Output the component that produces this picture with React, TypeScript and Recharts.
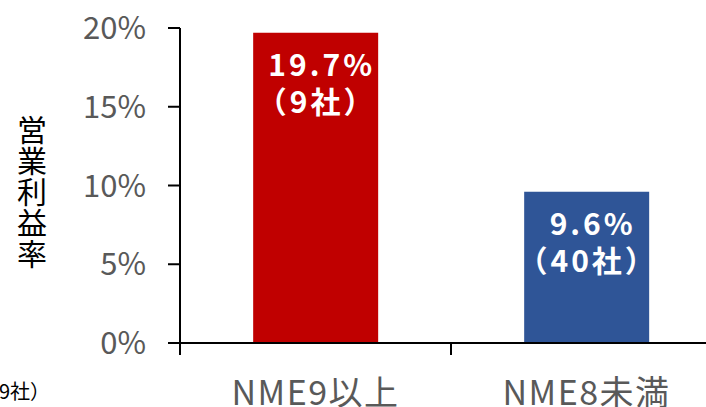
import React from 'react';
import { BarChart, Bar, XAxis, YAxis, Cell, LabelList } from 'recharts';

const categories = ['NME9以上', 'NME8未満'];
const operatingMargins = [19.7, 9.6];
const companyCounts = [9, 40];
const barColors = ['#C00000', '#2F5597'];
const yTicks = [0, 5, 10, 15, 20];
const yTitle = '営業利益率';

const FONT = '"Noto Sans CJK JP", "Noto Sans", sans-serif';

const data = categories.map((name, i) => ({
  name,
  value: operatingMargins[i],
  companies: companyCounts[i],
}));

// two-line white label inside the top of each bar
const BarLabel = (props: any) => {
  const { x, y, width, index, value } = props;
  const cx = x + width / 2;
  return (
    <text style={{ fill: '#fff', fontSize: 30, fontWeight: 700, fontFamily: FONT, letterSpacing: 3 }}
      textAnchor="middle" dominantBaseline="central">
      <tspan x={cx + 6} y={y + 30}>{`${value}%`}</tspan>
      <tspan x={cx + 1} y={y + 67}>{`（${companyCounts[index]}社）`}</tspan>
    </text>
  );
};

// category name plus tick marks on the band edges
const CategoryTick = (props: any) => {
  const { x, y, payload, index, visibleTicksCount } = props;
  const half = payload.offset || 0;
  const axisY = y - 38;
  return (
    <g>
      <line x1={x - half} x2={x - half} y1={axisY} y2={axisY + 12} stroke="#000" strokeWidth={2} />
      {index === visibleTicksCount - 1 && (
        <line x1={x + half} x2={x + half} y1={axisY} y2={axisY + 12} stroke="#000" strokeWidth={2} />
      )}
      <text x={x} y={y} dy="0.71em" textAnchor="middle" fill="#595959" fontSize={34}
        fontFamily={FONT} letterSpacing={1.5}>
        {payload.value}
      </text>
    </g>
  );
};

// y-axis title written top to bottom
const VerticalTitle = (props: any) => {
  const vb = props.viewBox || {};
  const mid = vb.y + vb.height / 2 + 7;
  return (
    <text x={32} y={mid} fontSize={30} fill="#000" fontFamily={FONT} letterSpacing={1}
      textAnchor="middle" dominantBaseline="central" style={{ writingMode: 'vertical-rl' }}>
      {yTitle}
    </text>
  );
};

export default function App() {
  return (
    <div style={{ position: 'fixed', left: 0, top: 0, width: 706, height: 407, overflow: 'hidden', background: '#fff' }}>
      <BarChart width={740} height={407} data={data} barCategoryGap="27%"
        margin={{ top: 28, right: 18, bottom: 0, left: 0 }}>
        <XAxis dataKey="name" height={64} tickSize={0} tickMargin={38}
          axisLine={{ stroke: '#000', strokeWidth: 2 }} tickLine={false}
          tick={<CategoryTick />} />
        <YAxis width={180} domain={[0, 20]} ticks={yTicks} tickFormatter={(v) => `${v}%`}
          tickSize={12} tickMargin={22}
          axisLine={{ stroke: '#000', strokeWidth: 2 }} tickLine={{ stroke: '#000', strokeWidth: 2 }}
          tick={{ fill: '#595959', fontSize: 31, fontFamily: FONT }}
          label={{ content: VerticalTitle }} />
        <Bar dataKey="value" isAnimationActive={false}>
          {data.map((d, i) => (
            <Cell key={d.name} fill={barColors[i]} />
          ))}
          <LabelList dataKey="value" content={BarLabel} />
        </Bar>
      </BarChart>
      <span style={{ position: 'absolute', right: 656, top: 376, fontSize: 20, fontFamily: FONT, color: '#000', whiteSpace: 'nowrap' }}>
        9社）
      </span>
    </div>
  );
}
